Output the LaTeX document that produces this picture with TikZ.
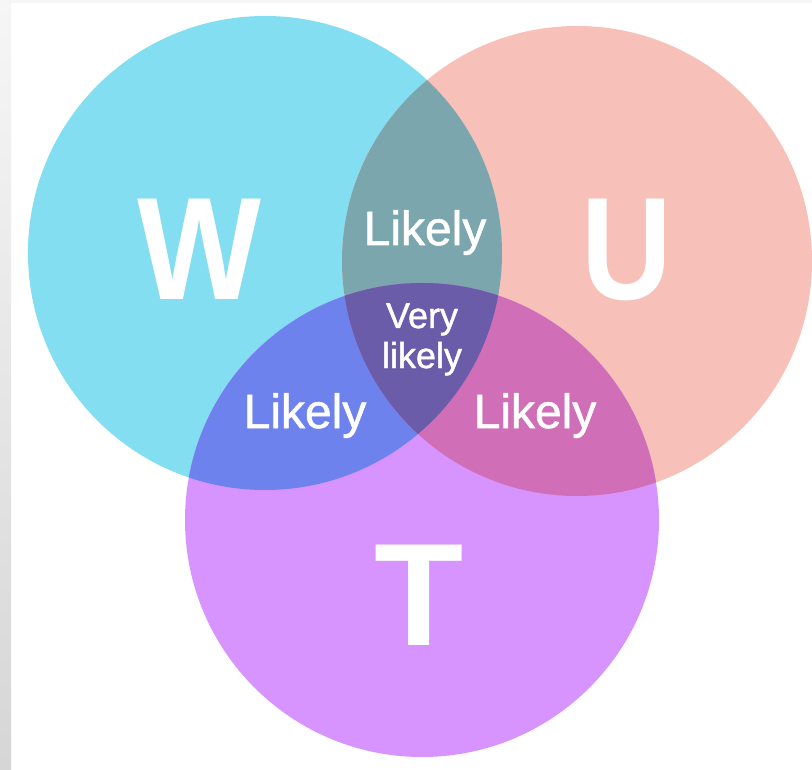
\documentclass[tikz,border=0pt]{standalone}
\usepackage{fontspec}
\setmainfont{Liberation Sans}
\newfontfamily\medfont[FakeBold=1.2]{Liberation Sans}
\definecolor{cW}{RGB}{130,222,240}
\definecolor{cU}{RGB}{247,192,184}
\definecolor{cT}{RGB}{215,148,255}
\definecolor{cWU}{RGB}{124,166,174}
\definecolor{cWT}{RGB}{110,130,238}
\definecolor{cUT}{RGB}{208,110,184}
\definecolor{cWUT}{RGB}{106,92,168}
\definecolor{stripA}{RGB}{246,246,246}
\definecolor{stripB}{RGB}{214,214,214}
\begin{document}
\begin{tikzpicture}[x=1pt,y=-1pt,
  big/.style={text=white,font=\fontsize{146}{146}\selectfont\bfseries,inner sep=0pt,anchor=base},
  lbl/.style={text=white,font=\fontsize{48}{48}\medfont,inner sep=0pt,anchor=base},
  sml/.style={text=white,font=\fontsize{36}{36}\medfont,inner sep=0pt,anchor=base}]
\useasboundingbox (0,0) rectangle (812,770);
\fill[white] (0,0) rectangle (812,770);
\shade[top color=stripA,bottom color=stripB] (0,0) rectangle (11,770);
\fill[stripA] (11,0) rectangle (812,3);
\def\Wc{(265,253) circle[radius=237]}
\def\Uc{(577,261) circle[radius=235]}
\def\Tc{(422,520) circle[radius=237]}
\fill[cW] \Wc;
\fill[cU] \Uc;
\fill[cT] \Tc;
\begin{scope}\clip \Wc; \fill[cWU] \Uc; \end{scope}
\begin{scope}\clip \Wc; \fill[cWT] \Tc; \end{scope}
\begin{scope}\clip \Uc; \fill[cUT] \Tc; \end{scope}
\begin{scope}\clip \Wc; \clip \Uc; \fill[cWUT] \Tc; \end{scope}
\node[big] (w) at (200,300) {\scalebox{0.9}[1]{W}};
\node[big] (u) at (627,300) {\scalebox{0.86}[1]{U}};
\node[big] (t) at (419,645) {T};
\node[lbl] (l1) at (425,245) {Likely};
\node[lbl] (l2) at (305,428) {Likely};
\node[lbl] (l3) at (535,428) {Likely};
\node[sml] (v1) at (422,328) {Very};
\node[sml] (v2) at (422,368) {likely};
\end{tikzpicture}
\end{document}
